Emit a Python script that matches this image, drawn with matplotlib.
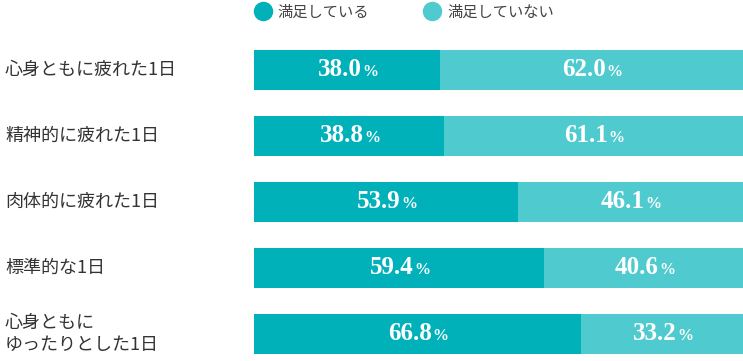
import matplotlib.pyplot as plt
from matplotlib.lines import Line2D
from matplotlib import transforms

plt.rcParams['font.family'] = ['Noto Sans CJK JP', 'DejaVu Sans']

categories = ['心身ともに疲れた1日', '精神的に疲れた1日', '肉体的に疲れた1日',
              '標準的な1日', '心身ともに\nゆったりとした1日']
satisfied = [38.0, 38.8, 53.9, 59.4, 66.8]
not_satisfied = [62.0, 61.1, 46.1, 40.6, 33.2]
series_names = ['満足している', '満足していない']

c_dark = '#00b1ba'
c_light = '#4fcbd0'

W, H = 743, 361
fig = plt.figure(figsize=(W / 100, H / 100), dpi=100)
ax = fig.add_axes([254 / W, 0, 1 - 254 / W, 1])

y = list(range(len(categories)))
ax.barh(y, satisfied, height=0.61, color=c_dark, label=series_names[0])
ax.barh(y, not_satisfied, left=satisfied, height=0.61, color=c_light, label=series_names[1])
ax.set_xlim(0, 100)
# row centres at 70 + 66*i px
ax.set_ylim((H - 70) / 66, -70 / 66)
ax.axis('off')

num_font = dict(family=['Liberation Serif', 'DejaVu Serif'], weight='bold', color='white')
for i in y:
    for left, val in ((0, satisfied[i]), (satisfied[i], not_satisfied[i])):
        cx = left + val / 2
        ax.annotate(f'{val:.1f}', (cx, i), xytext=(10.5, 0), textcoords='offset points',
                    ha='right', va='center', fontsize=18, **num_font)
        ax.annotate('%', (cx, i), xytext=(11, -1.5), textcoords='offset points',
                    ha='left', va='center', fontsize=11.5, **num_font)

trans = transforms.blended_transform_factory(fig.transFigure, ax.transData)
for i, lab in enumerate(categories):
    ax.text(5 / W, i, lab, transform=trans, ha='left', va='center',
            fontsize=13, color='#333333', linespacing=1.25, clip_on=False)

handles = [Line2D([], [], marker='o', linestyle='none', markersize=13, color=c)
           for c in (c_dark, c_light)]
fig.legend(handles, series_names, loc='center left', bbox_to_anchor=(255 / W, 1 - 12 / H),
           ncol=2, frameon=False, fontsize=11, handlelength=1.0, handletextpad=0.5,
           columnspacing=3.6, labelcolor='#444444', borderaxespad=0, borderpad=0)

fig.savefig('out.png', dpi=100)
